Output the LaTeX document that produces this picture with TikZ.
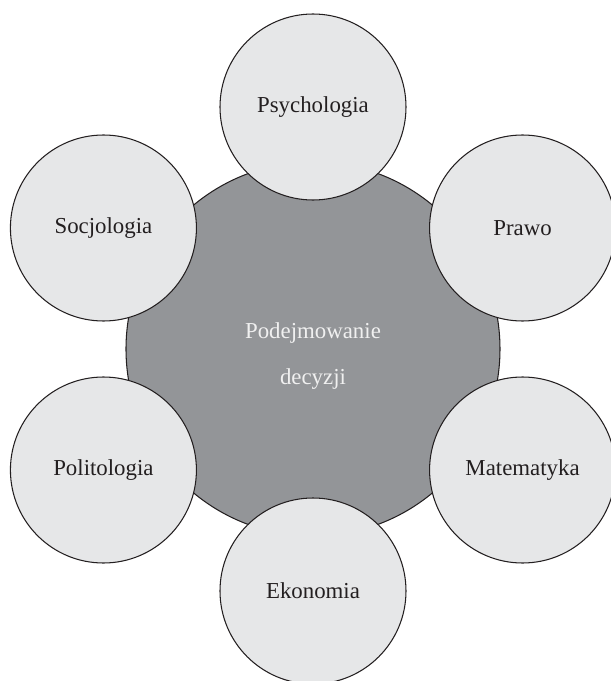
\documentclass[tikz,border=0pt]{standalone}
\usepackage{fontspec}
\setmainfont{Liberation Serif}
\usepackage{tikz}
\usetikzlibrary{positioning}
\usepackage{xcolor}
\definecolor{coreGray}{HTML}{939598}
\definecolor{fieldGray}{HTML}{E6E7E8}
\definecolor{inkBlack}{HTML}{231F20}

\begin{document}
\begin{tikzpicture}[
  core/.style={circle, draw=inkBlack, line width=0.6pt, fill=coreGray,
    minimum size=7.48cm, inner sep=0pt},
  field/.style={circle, draw=inkBlack, line width=0.6pt, fill=fieldGray,
    minimum size=3.72cm, inner sep=0pt, text=inkBlack,
    font=\fontsize{13}{15}\selectfont}
]
\useasboundingbox (-6.26,-6.64) rectangle (5.94,6.98);

\node[core] (core) at (0,0) {};
\node[text=white!94!black, align=center,
      font=\fontsize{13}{26}\selectfont] (coreText) at (0,-0.14)
    {Podejmowanie\\ decyzji};

\node[field] (psy) at (90:4.84)   {Psychologia};
\node[field] (law) at (30:4.84)   {Prawo};
\node[field] (math) at (-30:4.84) {Matematyka};
\node[field] (eco) at (-90:4.84)  {Ekonomia};
\node[field] (pol) at (-150:4.84) {Politologia};
\node[field] (soc) at (150:4.84)  {Socjologia};
\end{tikzpicture}
\end{document}
